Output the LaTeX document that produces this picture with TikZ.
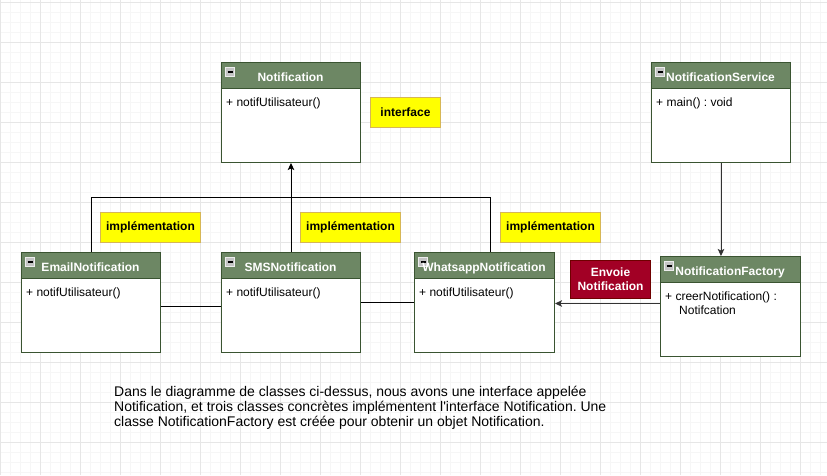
\documentclass[tikz,border=0pt]{standalone}
\usepackage{fontspec}
\setmainfont{Liberation Sans}
\usetikzlibrary{arrows.meta}
\frenchspacing
\definecolor{hdr}{HTML}{6D8764}
\definecolor{hdrline}{HTML}{3A5431}
\definecolor{notefill}{HTML}{FFFF00}
\definecolor{noteline}{HTML}{D6B656}
\definecolor{redfill}{HTML}{A20025}
\definecolor{redline}{HTML}{6F0000}
\definecolor{gridmaj}{HTML}{E6E6E6}
\definecolor{gridmin}{HTML}{F6F6F6}
\definecolor{iconfill}{HTML}{C4C4C4}
\tikzset{
  gridminor/.style={draw=gridmin, line width=1pt},
  gridmajor/.style={draw=gridmaj, line width=1pt},
  classbox/.style={draw=hdrline, fill=white, line width=1pt, inner sep=0pt, anchor=north west},
  headfill/.style={draw=hdrline, fill=hdr, line width=1pt},
  headtext/.style={text=white, font=\fontsize{12}{14}\selectfont\bfseries, inner sep=0pt, anchor=base},
  bodytext/.style={text=black, font=\fontsize{12}{14}\selectfont, inner sep=0pt, anchor=base west},
  iconbox/.style={draw=white!85!gray, fill=iconfill, line width=0.8pt},
  iconbar/.style={draw=black, line width=1.2pt},
  notebox/.style={draw=noteline, fill=notefill, line width=1pt, inner sep=0pt, anchor=north west,
    font=\fontsize{12}{14}\selectfont\bfseries, text=black},
  redbox/.style={draw=redline, fill=redfill, line width=1pt, inner sep=0pt, anchor=north west,
    font=\fontsize{12}{14}\selectfont\bfseries, text=white, align=center},
  para/.style={text=black, font=\fontsize{14}{15}\selectfont\addfontfeatures{Ligatures=TeXOff}, inner sep=0pt, anchor=base west},
  link/.style={draw=black, line width=1pt},
  arrowlink/.style={draw=black!80, line width=1pt, -{Stealth[length=7pt,width=6.5pt,inset=1.5pt]}},
}
% name, x, y, w, h, title, body
\newcommand{\umlclass}[7]{%
  \node[classbox, minimum width=#4pt, minimum height=#5pt] (#1) at (#2,#3) {};
  \draw[headfill] (#2,#3) rectangle ({#2+#4},{#3+26});
  \draw[iconbox] ({#2+4.5},{#3+5.5}) rectangle ({#2+13.5},{#3+14.5});
  \draw[iconbar] ({#2+6.5},{#3+10}) -- ({#2+11.5},{#3+10});
  \node[headtext] (#1-title) at ({#2+#4/2},{#3+19}) {#6};
  \node[bodytext] (#1-op) at ({#2+5},{#3+44}) {#7};
}
\begin{document}
\begin{tikzpicture}[x=1pt, y=-1pt]
  \useasboundingbox (0,0) rectangle (827,475);
  \fill[white] (0,0) rectangle (827,475);
  \foreach \gx in {10,20,...,820} \draw[gridminor] (\gx,0) -- (\gx,475);
  \foreach \gy in {2,12,...,472} \draw[gridminor] (0,\gy) -- (827,\gy);
  \foreach \gx in {0,40,...,800} \draw[gridmajor] (\gx,0) -- (\gx,475);
  \foreach \gy in {2,42,...,442} \draw[gridmajor] (0,\gy) -- (827,\gy);

  \umlclass{notif}{221}{62}{139}{100}{Notification}{+ notifUtilisateur()}
  \umlclass{svc}{651}{62}{139}{100}{NotificationService}{+ main() : void}
  \umlclass{email}{21}{252}{139}{100}{EmailNotification}{+ notifUtilisateur()}
  \umlclass{sms}{221}{252}{139}{100}{SMSNotification}{+ notifUtilisateur()}
  \umlclass{wa}{414}{252}{140}{100}{WhatsappNotification}{+ notifUtilisateur()}
  \umlclass{fac}{660}{256}{140}{100}{NotificationFactory}{+ creerNotification() :}
  \node[bodytext] (fac-op2) at (679,314) {Notifcation};

  \node[notebox, minimum width=70pt, minimum height=30pt] (lblif) at (370,97) {interface};
  \node[notebox, minimum width=100pt, minimum height=30pt] (lblimp1) at (100,212) {implémentation};
  \node[notebox, minimum width=100pt, minimum height=30pt] (lblimp2) at (300,212) {implémentation};
  \node[notebox, minimum width=100pt, minimum height=30pt] (lblimp3) at (500,212) {implémentation};
  \node[redbox, minimum width=80pt, minimum height=38pt] (lblsend) at (570,260) {Envoie\\Notification};

  % realisation connectors
  \draw[link] (email.north) -- ++(0,-55) -| ([xshift=6pt]wa.north);
  \draw[arrowlink, draw=black] (sms.north) -- (sms.north |- notif.south);
  \draw[link] ([yshift=-4pt]email.east) -- ([yshift=-4pt]email.east -| sms.west);
  \draw[link] (sms.east) -- (wa.west);
  % service -> factory
  \draw[arrowlink] (svc.south) -- (svc.south |- fac.north);
  % factory -> whatsapp
  \draw[arrowlink] ([yshift=3pt]fac.west) -- ([yshift=3pt]fac.west -| wa.east);

  \node[para] (p1) at (114,396) {Dans le diagramme de classes ci-dessus, nous avons une interface appelée};
  \node[para] (p2) at (114,411) {Notification, et trois classes concrètes implémentent l'interface Notification. Une};
  \node[para] (p3) at (114,426) {classe NotificationFactory est créée pour obtenir un objet Notification.};
\end{tikzpicture}
\end{document}
